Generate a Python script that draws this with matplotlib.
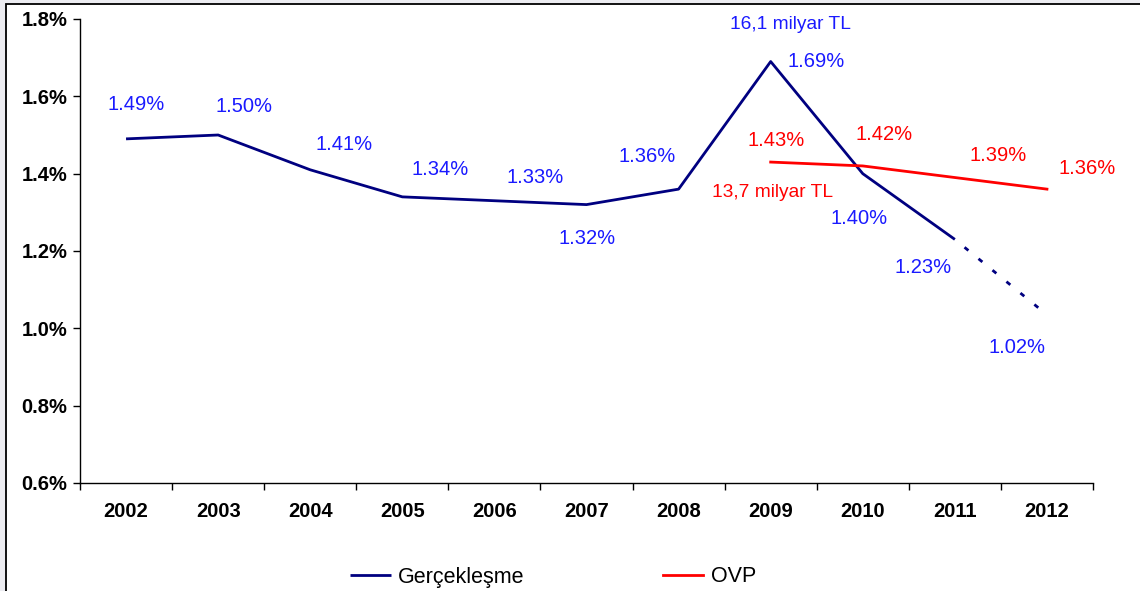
import matplotlib.pyplot as plt
from matplotlib.patches import Rectangle

plt.rcParams['font.family'] = ['Liberation Sans', 'DejaVu Sans']

# data
years = ['2002', '2003', '2004', '2005', '2006', '2007', '2008', '2009', '2010', '2011', '2012']
actual = [1.49, 1.50, 1.41, 1.34, 1.33, 1.32, 1.36, 1.69, 1.40, 1.23, 1.035]
actual_labels = ['1.49%', '1.50%', '1.41%', '1.34%', '1.33%', '1.32%', '1.36%',
                 '1.69%', '1.40%', '1.23%', '1.02%']
ovp_years = ['2009', '2010', '2011', '2012']
ovp = [1.43, 1.42, 1.39, 1.36]
ovp_labels = ['1.43%', '1.42%', '1.39%', '1.36%']

# label offsets in pixels (dx, dy)
actual_off = [(10, 34), (26, 28), (34, 25), (38, 27), (41, 23), (1, -34),
              (-31, 33), (45, 0), (-4, -45), (-32, -28), (-30, -33)]
ovp_off = [(5, 22), (21, 31), (43, 22), (40, 21)]

navy = '#000080'
red = '#ff0000'
lblue = '#1a1aff'

fig = plt.figure(figsize=(11.4, 5.91), dpi=100)
fig.patch.set_facecolor('#ececf1')
fig.patches.append(Rectangle((6 / 1140, -0.1), 1.2, 1.1 - 4 / 591,
                             transform=fig.transFigure, facecolor='white',
                             edgecolor='black', linewidth=1.3, zorder=-10))

ax = fig.add_axes([80 / 1140, 1 - 483 / 591, 1013 / 1140, 464 / 591])
ax.set_facecolor('none')

x = list(range(len(years)))
xo = [years.index(y) for y in ovp_years]

ax.plot(x[:10], actual[:10], color=navy, lw=2.0, label='Gerçekleşme',
        solid_capstyle='butt')
ax.plot(x[9:], actual[9:], color=navy, lw=2.0, linestyle=(2, (1.8, 4.7)))
ax.plot(xo, ovp, color=red, lw=2.0, label='OVP')

for xi, v, t, (dx, dy) in zip(x, actual, actual_labels, actual_off):
    ax.annotate(t, (xi, v), xytext=(dx, dy), textcoords='offset pixels',
                ha='center', va='center', color=lblue, fontsize=14.5)
for xi, v, t, (dx, dy) in zip(xo, ovp, ovp_labels, ovp_off):
    ax.annotate(t, (xi, v), xytext=(dx, dy), textcoords='offset pixels',
                ha='center', va='center', color=red, fontsize=14.5)

ax.annotate('16,1 milyar TL', (years.index('2009'), actual[7]), xytext=(20, 37),
            textcoords='offset pixels', ha='center', va='center',
            color=lblue, fontsize=13.8)
ax.annotate('13,7 milyar TL', (xo[0], ovp[0]), xytext=(2, -30),
            textcoords='offset pixels', ha='center', va='center',
            color=red, fontsize=13.8)

ax.set_xlim(-0.5, len(years) - 0.5)
ax.set_ylim(0.6, 1.8)
ax.set_xticks(x)
ax.set_xticklabels(years, fontsize=14.5, fontweight='bold')
ax.set_xticks([i - 0.5 for i in range(len(years) + 1)], minor=True)
ax.tick_params(axis='x', which='major', length=0, pad=14)
ax.tick_params(axis='x', which='minor', length=5, width=1, direction='out')
yt = [0.6, 0.8, 1.0, 1.2, 1.4, 1.6, 1.8]
ax.set_yticks(yt)
ax.set_yticklabels([f'{v:.1f}%' for v in yt], fontsize=14.5, fontweight='bold')
ax.tick_params(axis='y', length=5, width=1, direction='out', pad=4)

for s in ['top', 'right']:
    ax.spines[s].set_visible(False)
for s in ['left', 'bottom']:
    ax.spines[s].set_linewidth(1.0)

fig.legend(loc='center', bbox_to_anchor=(553 / 1140, 1 - 577 / 591), ncol=2,
           frameon=False, fontsize=15.5, handlelength=1.9, handletextpad=0.35,
           columnspacing=6.4)

fig.savefig('out.png', dpi=100, facecolor=fig.get_facecolor())
